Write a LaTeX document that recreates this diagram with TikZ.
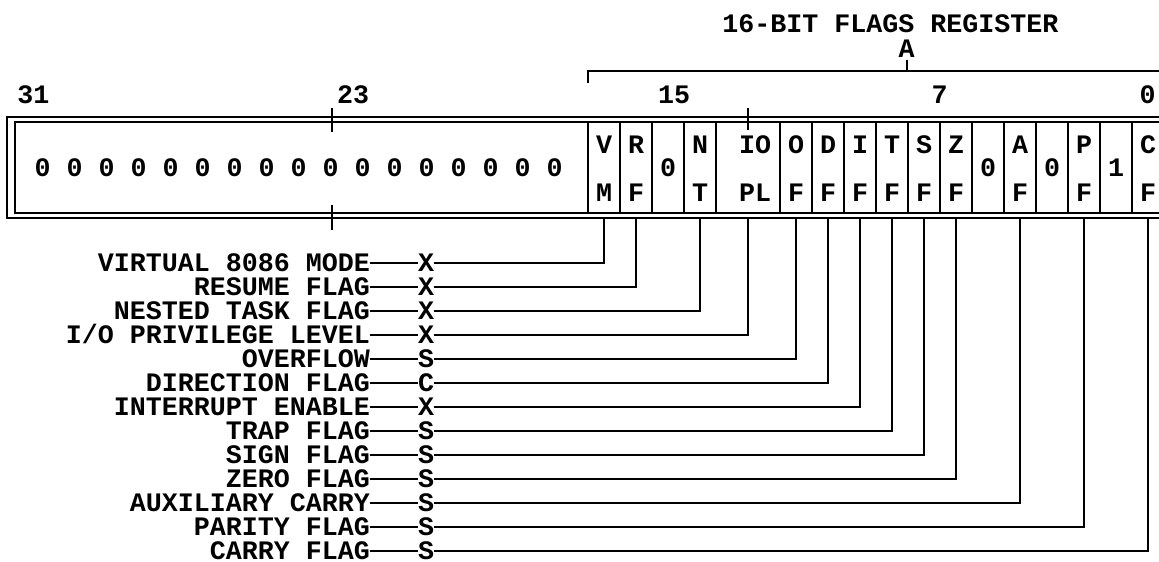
\documentclass[tikz,border=0pt]{standalone}
\usepackage{fontspec}
\setmainfont{Liberation Mono}
\newlength\mycapht
\begin{document}
{\bfseries\fontsize{20}{24}\selectfont\global\mycapht=\fontcharht\font`X}%
\begin{tikzpicture}[x=0.75pt,y=-0.75pt,
  every node/.style={font=\bfseries\fontsize{20}{24}\selectfont, inner sep=0pt, outer sep=0pt, text height=\mycapht, text depth=0pt},
  outerline/.style={line width=1.3pt},
  innerline/.style={line width=1.2pt},
  cellbox/.style={draw, line width=1.5pt, minimum height=68.25pt},
  conn/.style={line width=1.5pt},
  lbl/.style={anchor=east}]
\useasboundingbox (0,0) rectangle (1159,561);
% title and bracket
\node (title) at (890.5,24) {16-BIT FLAGS REGISTER};
\node (A) at (906.5,49) {A};
\draw[conn] (588,83) -- (588,70.7) -- (1226,70.7) -- (1226,83);
\draw[conn] (907,70.7) -- (907,60);
% bit numbers
\node (n31) at (33.5,95) {31};
\node (n23) at (353,95) {23};
\node (n15) at (674,95) {15};
\node (n7) at (939.5,95) {7};
\node (n0) at (1147.5,95) {0};
% register frame
\draw[outerline] (1180,117) -- (7,117) -- (7,218) -- (1180,218);
\draw[innerline] (1170,122) -- (15,122) -- (15,213) -- (1170,213);
\foreach \i in {0,...,16} \node (z\i) at ({42.7+32*\i},168) {0};
% ticks
\draw[conn] (332,108) -- (332,132);
\draw[conn] (332,205) -- (332,230);
\draw[conn] (748,108) -- (748,130);
% cells with two letters
\foreach \cx/\w/\n/\ta/\tb in {604/32/VM/V/M, 636/32/RF/R/F, 700/32/NT/N/T, 796/32/OF/O/F, 828/32/DF/D/F, 860/32/IF/I/F, 892/32/TF/T/F, 924/32/SF/S/F, 956/32/ZF/Z/F, 1020/32/AF/A/F, 1084/32/PF/P/F, 1148/32/CF/C/F} {
  \node[cellbox, minimum width=\w*0.75pt] (\n) at (\cx,167.5) {};
  \node (\n a) at (\cx,145) {\ta};
  \node (\n b) at (\cx,193) {\tb};
}
\node[cellbox, minimum width=48pt] (IOPL) at (748,167.5) {};
\node (IOPLa) at (755,145) {IO};
\node (IOPLb) at (755,193) {PL};
% constant cells
\foreach \cx/\n/\t in {668/R15/0, 988/R5/0, 1052/R3/0, 1116/R1/1} {
  \node[cellbox, minimum width=24pt] (\n) at (\cx,167.5) {};
  \node (\n t) at (\cx,168) {\t};
}
% flag descriptions
\node[lbl] (lVM) at (370,263) {VIRTUAL 8086 MODE};
\node[lbl] (lRF) at (370,287) {RESUME FLAG};
\node[lbl] (lNT) at (370,311) {NESTED TASK FLAG};
\node[lbl] (lIOPL) at (370,335) {I/O PRIVILEGE LEVEL};
\node[lbl] (lOF) at (370,359) {OVERFLOW};
\node[lbl] (lDF) at (370,383) {DIRECTION FLAG};
\node[lbl] (lIF) at (370,407) {INTERRUPT ENABLE};
\node[lbl] (lTF) at (370,431) {TRAP FLAG};
\node[lbl] (lSF) at (370,455) {SIGN FLAG};
\node[lbl] (lZF) at (370,479) {ZERO FLAG};
\node[lbl] (lAF) at (370,503) {AUXILIARY CARRY};
\node[lbl] (lPF) at (370,527) {PARITY FLAG};
\node[lbl] (lCF) at (370,551) {CARRY FLAG};
\foreach \n/\y/\f/\cx in {VM/263/X/604, RF/287/X/636, NT/311/X/700, IOPL/335/X/748, OF/359/S/796, DF/383/C/828, IF/407/X/860, TF/431/S/892, SF/455/S/924, ZF/479/S/956, AF/503/S/1020, PF/527/S/1084, CF/551/S/1148} {
  \node (f\n) at (426,\y) {\f};
  \coordinate (b\n) at (\cx,219);
  \draw[conn] (l\n.east) -- (f\n.west);
  \draw[conn] (f\n.east) -| (b\n);
}
\end{tikzpicture}
\end{document}
